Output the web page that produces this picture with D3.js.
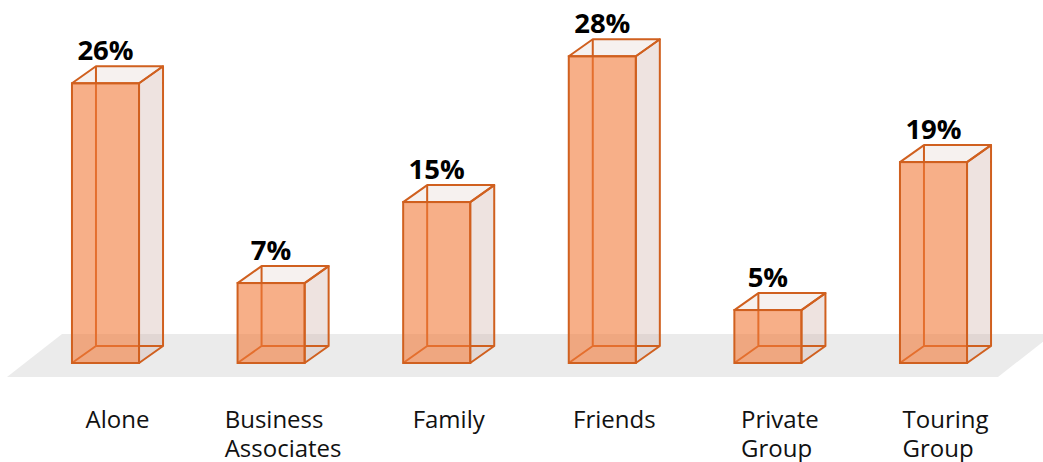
<!DOCTYPE html>
<html>
<head>
<meta charset="utf-8">
<script src="https://cdn.jsdelivr.net/npm/d3@7"></script>
<style>
  body { margin: 0; background: #fff; }
  svg { display: block; }
</style>
</head>
<body>
<div class="chart"></div>
<script>
var svgWidth = 1043;
var svgHeight = 462;

// data (percent of travellers)
var categories = ["Alone", "Business Associates", "Family", "Friends", "Private Group", "Touring Group"];
var categoryLines = [["Alone"], ["Business", "Associates"], ["Family"], ["Friends"], ["Private", "Group"], ["Touring", "Group"]];
var shares = [25.9, 7.4, 14.9, 28.4, 4.9, 18.6];

var baseY = 363;      // front bottom edge of the bars
var depthX = 24;      // 3d offset of the back faces
var depthY = -17;

var svg = d3.select(".chart")
  .append("svg")
  .attr("width", svgWidth)
  .attr("height", svgHeight);

var x = d3.scaleBand()
  .domain(categories)
  .range([22.7, 1016.3])
  .paddingInner(0.595)
  .paddingOuter(0.2975);

var y = d3.scaleLinear()
  .domain([0, 30])
  .range([baseY, baseY - 324]);

// grey floor
svg.append("polygon")
  .attr("points", [[7, baseY + 14], [998, baseY + 14], [1053, baseY - 29], [62, baseY - 29]].join(" "))
  .attr("fill", "#ebebeb");

var stroke = "#d0601f";

var bars = svg.selectAll(".bar")
  .data(categories)
  .enter()
  .append("g")
  .attr("class", "bar");

bars.each(function(c, i) {
  var g = d3.select(this);
  var x0 = x(c), w = x.bandwidth();
  var top = y(shares[i]), bot = y(0);

  // right side face
  g.append("polygon")
    .attr("points", [[x0 + w, top], [x0 + w + depthX, top + depthY], [x0 + w + depthX, bot + depthY], [x0 + w, bot]].join(" "))
    .attr("fill", "rgba(205,175,165,0.35)")
    .attr("stroke", stroke).attr("stroke-width", 2).attr("stroke-linejoin", "round");

  // top face
  g.append("polygon")
    .attr("points", [[x0, top], [x0 + depthX, top + depthY], [x0 + w + depthX, top + depthY], [x0 + w, top]].join(" "))
    .attr("fill", "rgba(215,190,180,0.22)")
    .attr("stroke", stroke).attr("stroke-width", 2).attr("stroke-linejoin", "round");

  // hidden edges, seen through the front face
  g.append("path")
    .attr("d", "M" + (x0 + depthX) + "," + (top + depthY) +
               "L" + (x0 + depthX) + "," + (bot + depthY) +
               "L" + (x0 + w + depthX) + "," + (bot + depthY) +
               "M" + x0 + "," + bot +
               "L" + (x0 + depthX) + "," + (bot + depthY))
    .attr("fill", "none")
    .attr("stroke", stroke).attr("stroke-width", 2);

  // front face
  g.append("rect")
    .attr("x", x0).attr("y", top)
    .attr("width", w).attr("height", bot - top)
    .attr("fill", "#f27a38").attr("fill-opacity", 0.6)
    .attr("stroke", stroke).attr("stroke-width", 2);

  // value label
  g.append("text")
    .attr("x", x0 + w / 2)
    .attr("y", top + depthY - 6)
    .attr("text-anchor", "middle")
    .style("font-family", "'Open Sans', sans-serif")
    .style("font-weight", "bold")
    .style("font-size", "27.5px")
    .attr("fill", "#000")
    .text(Math.round(shares[i]) + "%");
});

// category labels, lines left aligned, block centred under the bar
var labels = svg.selectAll(".cat")
  .data(categories)
  .enter()
  .append("text")
  .attr("class", "cat")
  .style("font-family", "'Open Sans', sans-serif")
  .style("font-size", "24px")
  .attr("fill", "#111");

labels.each(function(c, i) {
  var t = d3.select(this);
  categoryLines[i].forEach(function(line, k) {
    t.append("tspan").attr("dy", k === 0 ? 0 : 29).text(line);
  });
  var maxW = 0;
  t.selectAll("tspan").each(function() { maxW = Math.max(maxW, this.getComputedTextLength()); });
  var cx = x(c) + x.bandwidth() / 2 + depthX / 2;
  t.attr("y", 428);
  t.selectAll("tspan").attr("x", cx - maxW / 2);
});
</script>
</body>
</html>
